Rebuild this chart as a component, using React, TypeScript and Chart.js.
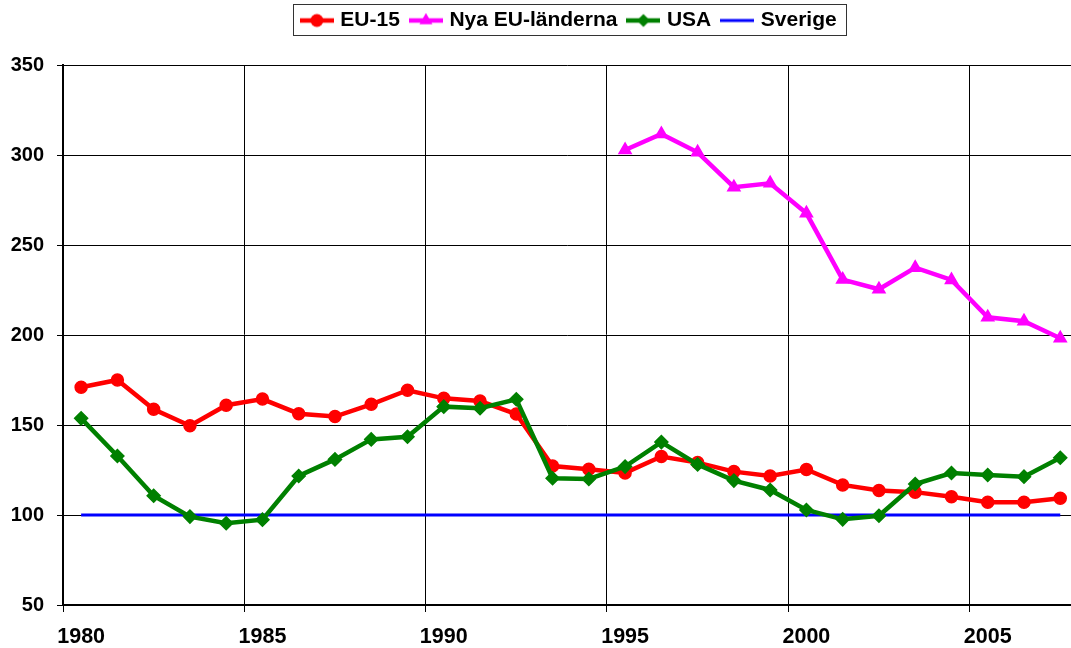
import React, { useEffect, useRef } from 'react';
import { Chart, registerables } from 'chart.js';

Chart.register(...registerables);

const years = [
  '1980', '1981', '1982', '1983', '1984', '1985', '1986', '1987', '1988', '1989',
  '1990', '1991', '1992', '1993', '1994', '1995', '1996', '1997', '1998', '1999',
  '2000', '2001', '2002', '2003', '2004', '2005', '2006', '2007',
];

const eu15 = [
  171, 175, 158.7, 149.6, 161, 164.4, 156.3, 154.7, 161.5, 169.3,
  164.8, 163.3, 156.1, 127.2, 125.4, 123.4, 132.5, 129.1, 124.1, 121.7,
  125.3, 116.7, 113.6, 112.7, 110.1, 107.1, 107.1, 109.3,
];

const nyaEU = [
  null, null, null, null, null, null, null, null, null, null,
  null, null, null, null, null, 302.8, 311.7, 301.5, 282.1, 284.3,
  267.6, 230.8, 225.4, 237.4, 230.6, 209.8, 207.6, 198.2,
];

const usa = [
  153.7, 132.8, 110.7, 99.1, 95.4, 97.4, 121.7, 130.9, 142, 143.5,
  160.2, 159.3, 164.3, 120.4, 120, 126.9, 140.5, 128.1, 119.1, 113.9,
  102.8, 97.6, 99.6, 117.2, 123.3, 122.2, 121.3, 131.8,
];

const sverige = [
  100, 100, 100, 100, 100, 100, 100, 100, 100, 100,
  100, 100, 100, 100, 100, 100, 100, 100, 100, 100,
  100, 100, 100, 100, 100, 100, 100, 100,
];

const seriesNames = ['EU-15', 'Nya EU-länderna', 'USA', 'Sverige'];
const yTicks = { min: 50, max: 350, step: 50 };
// visible x range (the original picture is cut off a little before the end of 2007)
const xRange = { min: 1979.5, max: 2007.31 };

const FONT_FAMILY = "'Liberation Sans', Arial, Helvetica, sans-serif";
const RED = '#FF0000';
const MAGENTA = '#FF00FF';
const GREEN = '#008000';
const BLUE = '#0000FF';

function makeIcon(color: string, marker: string, lineWidth: number): HTMLCanvasElement {
  const c = document.createElement('canvas');
  c.width = 34;
  c.height = 16;
  const g = c.getContext('2d')!;
  g.strokeStyle = color;
  g.fillStyle = color;
  g.lineWidth = lineWidth;
  g.beginPath();
  g.moveTo(0, 8);
  g.lineTo(34, 8);
  g.stroke();
  const cx = 17;
  const cy = 8;
  g.beginPath();
  if (marker === 'circle') {
    g.arc(cx, cy, 6.5, 0, Math.PI * 2);
    g.fill();
  } else if (marker === 'triangle') {
    const r = 7.5;
    g.moveTo(cx, cy - r);
    g.lineTo(cx + r * 0.866, cy + r * 0.5);
    g.lineTo(cx - r * 0.866, cy + r * 0.5);
    g.closePath();
    g.fill();
  } else if (marker === 'diamond') {
    const r = 6.5;
    g.moveTo(cx, cy - r);
    g.lineTo(cx + r, cy);
    g.lineTo(cx, cy + r);
    g.lineTo(cx - r, cy);
    g.closePath();
    g.fill();
  }
  return c;
}

const legendBorder = {
  id: 'legendBorder',
  afterLayout(chart: any) {
    const lg = chart.legend;
    if (lg) {
      lg.left += 3;
      lg.right += 3;
    }
  },
  afterDraw(chart: any) {
    const lg = chart.legend;
    if (!lg || !lg.legendHitBoxes || !lg.legendHitBoxes.length) return;
    const hb = lg.legendHitBoxes;
    const left = Math.min(...hb.map((h: any) => h.left)) - 11;
    const right = Math.max(...hb.map((h: any) => h.left + h.width)) + 9;
    const top = hb[0].top - 6;
    const bottom = hb[0].top + hb[0].height + 4;
    const ctx = chart.ctx;
    ctx.save();
    ctx.strokeStyle = '#333333';
    ctx.lineWidth = 1;
    ctx.strokeRect(Math.round(left) + 0.5, Math.round(top) + 0.5, Math.round(right - left), Math.round(bottom - top));
    ctx.restore();
  },
};

export default function App() {
  const ref = useRef<HTMLCanvasElement>(null);

  useEffect(() => {
    const canvas = ref.current;
    if (!canvas) return;
    const icons = [
      makeIcon(RED, 'circle', 4.5),
      makeIcon(MAGENTA, 'triangle', 4.5),
      makeIcon(GREEN, 'diamond', 4.5),
      makeIcon(BLUE, 'none', 3),
    ];
    const legendFont = { family: FONT_FAMILY, size: 21, weight: 'bold' as const };
    const xFont = { family: FONT_FAMILY, size: 21.5, weight: 'bold' as const };
    const yFont = { family: FONT_FAMILY, size: 20, weight: 'bold' as const };

    const chart = new Chart(canvas, {
      type: 'line',
      data: {
        labels: years,
        datasets: [
          {
            label: seriesNames[0],
            data: eu15,
            borderColor: RED,
            backgroundColor: RED,
            borderWidth: 4.5,
            pointStyle: 'circle',
            pointRadius: 6,
            pointBorderWidth: 1.5,
            pointBackgroundColor: RED,
            pointBorderColor: RED,
            order: 2,
          },
          {
            label: seriesNames[1],
            data: nyaEU,
            borderColor: MAGENTA,
            backgroundColor: MAGENTA,
            borderWidth: 4.5,
            pointStyle: 'triangle',
            pointRadius: 6.5,
            pointBorderWidth: 2,
            pointBackgroundColor: MAGENTA,
            pointBorderColor: MAGENTA,
            order: 3,
          },
          {
            label: seriesNames[2],
            data: usa,
            borderColor: GREEN,
            backgroundColor: GREEN,
            borderWidth: 4.5,
            pointStyle: 'rectRot',
            pointRadius: 6.5,
            pointBorderWidth: 1.5,
            pointBackgroundColor: GREEN,
            pointBorderColor: GREEN,
            order: 1,
          },
          {
            label: seriesNames[3],
            data: sverige,
            borderColor: BLUE,
            backgroundColor: BLUE,
            borderWidth: 3,
            pointRadius: 0,
            order: 4,
          },
        ],
      },
      options: {
        responsive: false,
        animation: false,
        devicePixelRatio: 1,
        layout: { padding: { top: -3, left: 0, right: 0, bottom: 0 } },
        elements: { line: { tension: 0 } },
        plugins: {
          legend: {
            position: 'top',
            fullSize: false,
            onClick: () => {},
            labels: {
              usePointStyle: true,
              pointStyleWidth: 26,
              boxHeight: 21,
              padding: 13,
              color: '#000000',
              font: legendFont,
              generateLabels: (ch: any) =>
                ch.data.datasets.map((ds: any, i: number) => ({
                  text: ds.label,
                  pointStyle: icons[i],
                  fillStyle: 'rgba(0,0,0,0)',
                  strokeStyle: 'rgba(0,0,0,0)',
                  lineWidth: 0,
                  hidden: false,
                  datasetIndex: i,
                  fontColor: '#000000',
                })),
            },
          },
          title: {
            display: true,
            text: '',
            weight: 500,
            padding: 0,
            font: { size: 24, lineHeight: 1 },
          } as any,
          tooltip: { enabled: false },
        },
        scales: {
          x: {
            type: 'linear',
            min: xRange.min,
            max: xRange.max,
            afterBuildTicks: (s: any) => {
              s.ticks = years.map((y) => ({ value: Number(y) }));
            },
            grid: {
              offset: true,
              lineWidth: 1,
              tickLength: 7,
              drawTicks: true,
              color: (ctx: any) => (typeof ctx.index === 'number' && ctx.index % 5 === 0 ? '#000000' : 'rgba(0,0,0,0)'),
            },
            border: { color: '#000000', width: 2 },
            ticks: {
              autoSkip: false,
              maxRotation: 0,
              minRotation: 0,
              padding: 12,
              color: '#000000',
              font: xFont,
              callback: (_v: any, i: number) => (i % 5 === 0 ? years[i] : ''),
            },
            afterFit: (s: any) => {
              s.height = 43;
            },
          },
          y: {
            min: yTicks.min,
            max: yTicks.max,
            ticks: { stepSize: yTicks.step, padding: 13, color: '#000000', font: yFont },
            grid: { color: '#000000', lineWidth: 1, tickLength: 6 },
            border: { color: '#000000', width: 2 },
            afterFit: (s: any) => {
              s.width = 63;
            },
          },
        },
      },
      plugins: [legendBorder],
    } as any);

    return () => chart.destroy();
  }, []);

  return (
    <div
      style={{
        position: 'fixed',
        left: 0,
        top: 0,
        width: 1080,
        height: 648,
        overflow: 'hidden',
        background: '#ffffff',
      }}
    >
      <canvas ref={ref} width={1080} height={648} style={{ display: 'block', width: 1080, height: 648 }} />
    </div>
  );
}
